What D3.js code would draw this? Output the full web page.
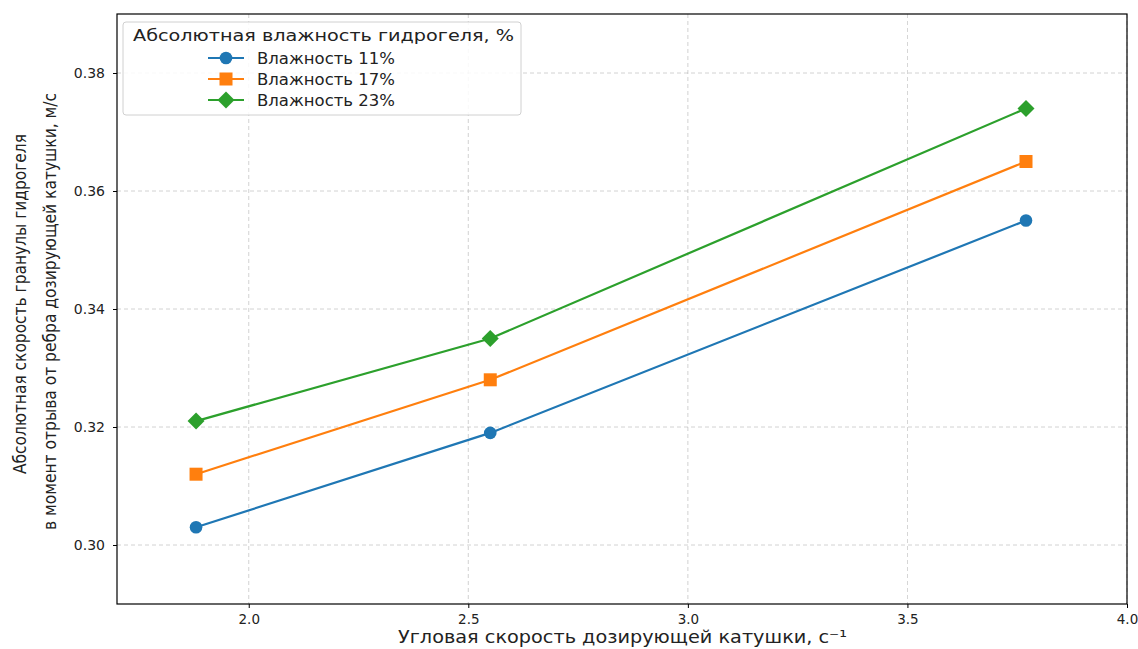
<!DOCTYPE html>
<html><head><meta charset="utf-8">
<script src="https://cdn.jsdelivr.net/npm/d3@7"></script>
<style>body{margin:0;background:#fff}</style>
</head><body>
<svg id="c" width="1138" height="649"></svg>
<script>
const xValues = [1.88, 2.55, 3.77];
const s11 = [0.303, 0.319, 0.355];
const s17 = [0.312, 0.328, 0.365];
const s23 = [0.321, 0.335, 0.374];
const seriesNames = ["Влажность 11%", "Влажность 17%", "Влажность 23%"];
const seriesColors = ["#1f77b4", "#ff7f0e", "#2ca02c"];
const xTicks = [2.0, 2.5, 3.0, 3.5, 4.0];
const yTicks = [0.30, 0.32, 0.34, 0.36, 0.38];
const legendTitle = "Абсолютная влажность гидрогеля, %";
const xTitle = "Угловая скорость дозирующей катушки, с⁻¹";
const yTitle1 = "Абсолютная скорость гранулы гидрогеля";
const yTitle2 = "в момент отрыва от ребра дозирующей катушки, м/с";

const series = [s11, s17, s23];
const svg = d3.select("#c");
const L = 117, R = 1127, T = 14, B = 604;
const x = d3.scaleLinear().domain([1.7, 4.0]).range([L, R]);
const y = d3.scaleLinear().domain([0.29, 0.39]).range([B, T]);

function marker(sel, k, cx, cy) {
  if (k === 0) {
    sel.append("circle").attr("cx", cx).attr("cy", cy).attr("r", 6.3).attr("fill", seriesColors[k]);
  } else if (k === 1) {
    sel.append("rect").attr("x", cx - 6.5).attr("y", cy - 6.5).attr("width", 13).attr("height", 13).attr("fill", seriesColors[k]);
  } else {
    sel.append("rect").attr("x", -6).attr("y", -6).attr("width", 12).attr("height", 12)
      .attr("transform", `translate(${cx},${cy}) rotate(45)`).attr("fill", seriesColors[k]);
  }
}

// grid
const g = svg.append("g");
g.selectAll(".gx").data(xTicks).join("line")
  .attr("x1", d => x(d)).attr("x2", d => x(d)).attr("y1", T).attr("y2", B)
  .attr("stroke", "#b0b0b0").attr("stroke-width", 0.8).attr("stroke-dasharray", "4,3").attr("opacity", 0.7);
g.selectAll(".gy").data(yTicks).join("line")
  .attr("x1", L).attr("x2", R).attr("y1", d => y(d)).attr("y2", d => y(d))
  .attr("stroke", "#b0b0b0").attr("stroke-width", 0.8).attr("stroke-dasharray", "4,3").attr("opacity", 0.7);

// axes
const xa = svg.append("g").attr("transform", `translate(0,${B})`)
  .call(d3.axisBottom(x).tickValues(xTicks).tickFormat(d3.format(".1f")).tickSizeOuter(0).tickSize(4).tickPadding(6));
xa.selectAll("text").attr("font-family", "DejaVu Sans").attr("font-size", 13.5).attr("fill", "#222");
const ya = svg.append("g").attr("transform", `translate(${L},0)`)
  .call(d3.axisLeft(y).tickValues(yTicks).tickFormat(d3.format(".2f")).tickSizeOuter(0).tickSize(4).tickPadding(8));
ya.selectAll("text").attr("font-family", "DejaVu Sans").attr("font-size", 14).attr("fill", "#222");
svg.selectAll(".domain").remove();
svg.append("rect").attr("x", L).attr("y", T).attr("width", R - L).attr("height", B - T)
  .attr("fill", "none").attr("stroke", "#000").attr("stroke-width", 1.2);

// lines + markers
const line = d3.line().x((d, i) => x(xValues[i])).y(d => y(d));
series.forEach((s, k) => {
  svg.append("path").datum(s).attr("d", line).attr("fill", "none")
    .attr("stroke", seriesColors[k]).attr("stroke-width", 2.2);
  const mg = svg.append("g");
  s.forEach((d, i) => marker(mg, k, x(xValues[i]), y(d)));
});

// legend
const lg = svg.append("g");
lg.append("rect").attr("x", 123).attr("y", 22).attr("width", 398).attr("height", 93).attr("rx", 3)
  .attr("fill", "#fff").attr("fill-opacity", 0.85).attr("stroke", "#d0d0d0");
lg.append("text").attr("x", 133).attr("y", 41)
  .attr("font-family", "DejaVu Sans").attr("font-size", 15.5).attr("fill", "#222")
  .attr("textLength", 381).attr("lengthAdjust", "spacingAndGlyphs").text(legendTitle);
seriesNames.forEach((n, k) => {
  const yy = 58 + k * 21;
  lg.append("line").attr("x1", 208).attr("x2", 244).attr("y1", yy).attr("y2", yy)
    .attr("stroke", seriesColors[k]).attr("stroke-width", 2.2);
  marker(lg, k, 226, yy);
  lg.append("text").attr("x", 257).attr("y", yy + 5.5).attr("font-family", "DejaVu Sans")
    .attr("font-size", 15).attr("fill", "#222")
    .attr("textLength", 138).attr("lengthAdjust", "spacingAndGlyphs").text(n);
});

// titles
svg.append("text").attr("x", 398).attr("y", 643)
  .attr("font-family", "DejaVu Sans").attr("font-size", 17).attr("fill", "#222")
  .attr("textLength", 449).attr("lengthAdjust", "spacingAndGlyphs").text(xTitle);
svg.append("text").attr("transform", "translate(26,474) rotate(-90)")
  .attr("font-family", "Liberation Sans Narrow, DejaVu Sans Condensed, DejaVu Sans").attr("font-size", 18).attr("fill", "#222")
  .attr("textLength", 340).attr("lengthAdjust", "spacingAndGlyphs").text(yTitle1);
svg.append("text").attr("transform", "translate(56,530) rotate(-90)")
  .attr("font-family", "Liberation Sans Narrow, DejaVu Sans Condensed, DejaVu Sans").attr("font-size", 18).attr("fill", "#222")
  .attr("textLength", 437).attr("lengthAdjust", "spacingAndGlyphs").text(yTitle2);
</script>
</body></html>
